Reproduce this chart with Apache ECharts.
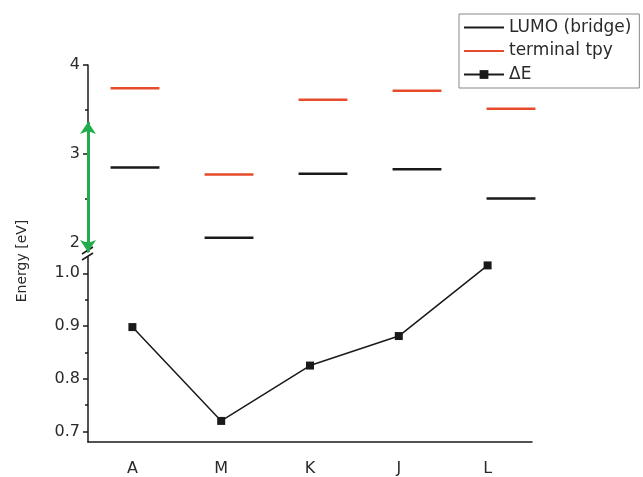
<!DOCTYPE html>
<html>
<head>
<meta charset="utf-8">
<script src="https://cdn.jsdelivr.net/npm/echarts@6/dist/echarts.min.js"></script>
<style>html,body{margin:0;padding:0;background:#fff}#c{width:643px;height:477px}</style>
</head>
<body>
<div id="c"></div>
<script>
// ---- data ----
const categories = ['A', 'M', 'K', 'J', 'L'];
const lumoBridge = [2.85, 2.06, 2.78, 2.83, 2.50];
const terminalTpy = [3.74, 2.77, 3.61, 3.71, 3.51];
const deltaE = [0.898, 0.720, 0.825, 0.881, 1.015];
const upperTicks = [2, 3, 4];
const upperMinor = [2.5, 3.5];
const lowerTicks = [0.7, 0.8, 0.9, 1.0];
const lowerMinor = [0.75, 0.85, 0.95];
const arrowRange = [3.36, 1.9];

const FONT = 'DejaVu Sans';
const TXT = '#2a2a2a';
const RED = '#e64b2c';
const BLK = '#1a1a1a';
const HALF = 0.26;

function levelData(vals) {
  const out = [];
  vals.forEach((v, i) => {
    out.push([i - HALF, v]);
    out.push([i + HALF, v]);
    out.push([i + 0.5, '-']);
  });
  return out;
}

const chart = echarts.init(document.getElementById('c'), null, {renderer: 'canvas'});
const axisLineStyle = {show: true, onZero: false, lineStyle: {color: BLK, width: 1.5}};
const tickStyle = {color: BLK, width: 1.5};
const option = {
  animation: false,
  backgroundColor: '#fff',
  textStyle: {fontFamily: FONT},
  grid: [
    {left: 88, top: 65, width: 470, height: 187},
    {left: 88, top: 257.5, width: 444, height: 185.5}
  ],
  xAxis: [
    {gridIndex: 0, type: 'value', min: -0.5, max: 4.5, show: false},
    {gridIndex: 1, type: 'category', data: categories, boundaryGap: true,
     axisLine: axisLineStyle,
     axisTick: {alignWithLabel: true, length: 5, lineStyle: tickStyle},
     axisLabel: {color: TXT, fontSize: 16, fontFamily: FONT, margin: 19},
     splitLine: {show: false}}
  ],
  yAxis: [
    {gridIndex: 0, type: 'value', min: 1.9, max: 4, position: 'left',
     axisLine: axisLineStyle,
     axisTick: {show: true, length: 5, customValues: upperTicks, lineStyle: tickStyle},
     axisLabel: {color: TXT, fontSize: 16, fontFamily: FONT, margin: 8, customValues: upperTicks},
     splitLine: {show: false}},
    {gridIndex: 1, type: 'value', min: 0.68, max: 1.03, position: 'left',
     axisLine: axisLineStyle,
     axisTick: {show: true, length: 5, customValues: lowerTicks, lineStyle: tickStyle},
     axisLabel: {color: TXT, fontSize: 16, fontFamily: FONT, margin: 8, customValues: lowerTicks,
                 formatter: v => v.toFixed(1)},
     splitLine: {show: false}},
    {gridIndex: 0, type: 'value', min: 1.9, max: 4, position: 'left', offset: 0,
     axisLine: {show: false, onZero: false},
     axisTick: {show: true, length: 3, customValues: upperMinor, lineStyle: tickStyle},
     axisLabel: {show: false}, splitLine: {show: false}},
    {gridIndex: 1, type: 'value', min: 0.68, max: 1.03, position: 'left', offset: 0,
     axisLine: {show: false, onZero: false},
     axisTick: {show: true, length: 3, customValues: lowerMinor, lineStyle: tickStyle},
     axisLabel: {show: false}, splitLine: {show: false}}
  ],
  legend: {
    orient: 'vertical', left: 459, top: 14,
    backgroundColor: '#fff', borderColor: '#888', borderWidth: 1,
    padding: [5, 8, 5, 4], itemGap: 6.5, itemWidth: 40, itemHeight: 11,
    textStyle: {fontSize: 17, fontFamily: FONT, color: TXT},
    data: [
      {name: 'LUMO (bridge)', itemStyle: {opacity: 0}},
      {name: 'terminal tpy', itemStyle: {opacity: 0}},
      {name: '\u0394E'}
    ]
  },
  series: [
    {name: 'LUMO (bridge)', type: 'line', xAxisIndex: 0, yAxisIndex: 0,
     data: levelData(lumoBridge), symbol: 'none', connectNulls: false,
     lineStyle: {color: BLK, width: 2.5}, itemStyle: {color: BLK},
     markLine: {
       silent: true, symbol: ['arrow', 'arrow'], symbolSize: [12, 12],
       label: {show: false},
       lineStyle: {color: '#1fae4b', width: 3, type: 'solid'},
       data: [[{coord: [-0.5, arrowRange[0]]}, {coord: [-0.5, arrowRange[1]]}]]
     }},
    {name: 'terminal tpy', type: 'line', xAxisIndex: 0, yAxisIndex: 0,
     data: levelData(terminalTpy), symbol: 'none', connectNulls: false,
     lineStyle: {color: RED, width: 2.5}, itemStyle: {color: RED}},
    {name: '\u0394E', type: 'line', xAxisIndex: 1, yAxisIndex: 1,
     data: deltaE, symbol: 'rect', symbolSize: 8, showSymbol: true,
     lineStyle: {color: BLK, width: 1.5}, itemStyle: {color: BLK}}
  ],
  graphic: [
    {type: 'text', x: 22, y: 261, rotation: Math.PI / 2,
     style: {text: 'Energy [eV]', fontSize: 14, fontFamily: FONT, fill: TXT, align: 'center', verticalAlign: 'middle'}},
    {type: 'line', shape: {x1: 82, y1: 254, x2: 93, y2: 247}, style: {stroke: BLK, lineWidth: 1.5}},
    {type: 'line', shape: {x1: 82, y1: 260, x2: 93, y2: 253}, style: {stroke: BLK, lineWidth: 1.5}}
  ]
};
chart.setOption(option);
</script>
</body>
</html>
